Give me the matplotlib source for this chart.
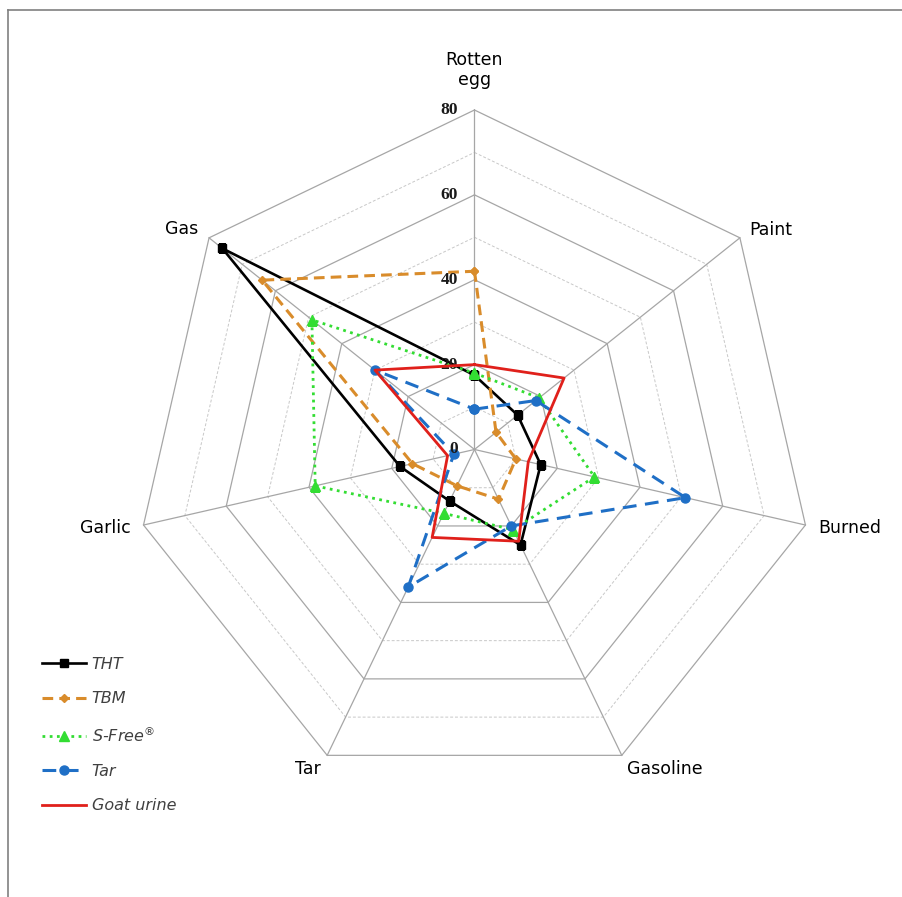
import numpy as np
import matplotlib
matplotlib.use('Agg')
import matplotlib.pyplot as plt
from matplotlib.lines import Line2D

# odour descriptors, clockwise from the top
categories = ['Rotten\negg', 'Paint', 'Burned', 'Gasoline', 'Tar', 'Garlic', 'Gas']

tht = [17.5, 13, 16, 25, 13.5, 18, 76]
tbm = [42, 6.5, 10, 13, 9.5, 15, 64]
s_free = [18, 19.5, 29, 21, 16.7, 38.5, 49]
tar = [9.5, 18.5, 51, 20, 36, 5, 30]
goat_urine = [20, 27, 13, 24, 23, 6.5, 30]

series_names = ['THT', 'TBM', 'S-Free$^{\\circledR}$', 'Tar', 'Goat urine']
tick_values = [0, 20, 40, 60, 80]
minor_values = [10, 30, 50, 70]
r_max = 80

fig = plt.figure(figsize=(9.03, 8.97), dpi=100)
ax = fig.add_axes([0.1495, 0.1204, 0.7519, 0.757], projection='polar')
ax.set_theta_zero_location('N')
ax.set_theta_direction(-1)
ax.set_ylim(0, r_max)
ax.set_xticks([])
ax.set_yticks([])
ax.grid(False)
ax.spines['polar'].set_visible(False)

n = len(categories)
theta = np.arange(n) * 2 * np.pi / n
theta_closed = np.append(theta, theta[0])

# grid: solid rings at major ticks, dashed at the halves
for v in tick_values[1:]:
    ax.plot(theta_closed, [v] * (n + 1), color='#a6a6a6', lw=0.9, clip_on=False, zorder=1)
for v in minor_values:
    ax.plot(theta_closed, [v] * (n + 1), color='#c8c8c8', lw=0.7, ls=(0, (3, 2)), clip_on=False, zorder=1)
for t in theta:
    ax.plot([t, t], [0, r_max], color='#a6a6a6', lw=0.9, clip_on=False, zorder=1)

def close(vals):
    return list(vals) + [vals[0]]

ax.plot(theta_closed, close(tht), color='black', lw=1.9, marker='s', ms=6, zorder=3, label=series_names[0])
ax.plot(theta_closed, close(tbm), color='#d98c2b', lw=2.2, ls=(0, (3.5, 2)), marker='D', ms=4.5, zorder=3, label=series_names[1])
ax.plot(theta_closed, close(s_free), color='#33dd33', lw=2.0, ls=(0, (1, 1.6)), marker='^', ms=6.5, zorder=3, label=series_names[2])
ax.plot(theta_closed, close(tar), color='#1f6fc6', lw=2.2, ls=(0, (4.5, 2.8)), marker='o', ms=6.5, zorder=3, label=series_names[3])
ax.plot(theta_closed, close(goat_urine), color='#e0201b', lw=2.0, zorder=4, label=series_names[4])

# value labels on the top spoke
for v in tick_values:
    ax.annotate(str(v), xy=(0, v), xytext=(-12, 0), textcoords='offset points',
                ha='right', va='center', fontsize=12.5, family='Liberation Serif',
                weight='bold', color='#1a1a1a', annotation_clip=False)

# category labels (offsets in points, ha, va)
label_pos = [((0, 29), 'center', 'center'),
             ((6.5, 5.5), 'left', 'center'),
             ((9, -2), 'left', 'center'),
             ((3.5, -9.5), 'left', 'center'),
             ((-4.5, -9.5), 'right', 'center'),
             ((-9, -2), 'right', 'center'),
             ((-8, 6), 'right', 'center')]
for t, name, (off, ha, va) in zip(theta, categories, label_pos):
    ax.annotate(name, xy=(t, r_max), xytext=off, textcoords='offset points',
                ha=ha, va=va, fontsize=12.5, family='DejaVu Sans', linespacing=1.15,
                annotation_clip=False)

leg = fig.legend(loc='center left', bbox_to_anchor=(0.0465, 0.1805), frameon=False,
                 prop={'family': 'DejaVu Sans', 'style': 'italic', 'size': 11.5},
                 handlelength=2.75, handletextpad=0.35, labelspacing=1.2,
                 borderpad=0, borderaxespad=0)
for txt in leg.get_texts():
    txt.set_color('#404040')

# thin grey frame along the top and left edges
fig.add_artist(Line2D([8 / 903, 8 / 903], [0, 1 - 10 / 897], color='#808080', lw=1.2, transform=fig.transFigure))
fig.add_artist(Line2D([8 / 903, 1], [1 - 10 / 897, 1 - 10 / 897], color='#808080', lw=1.2, transform=fig.transFigure))

fig.savefig('out.png', dpi=100)
